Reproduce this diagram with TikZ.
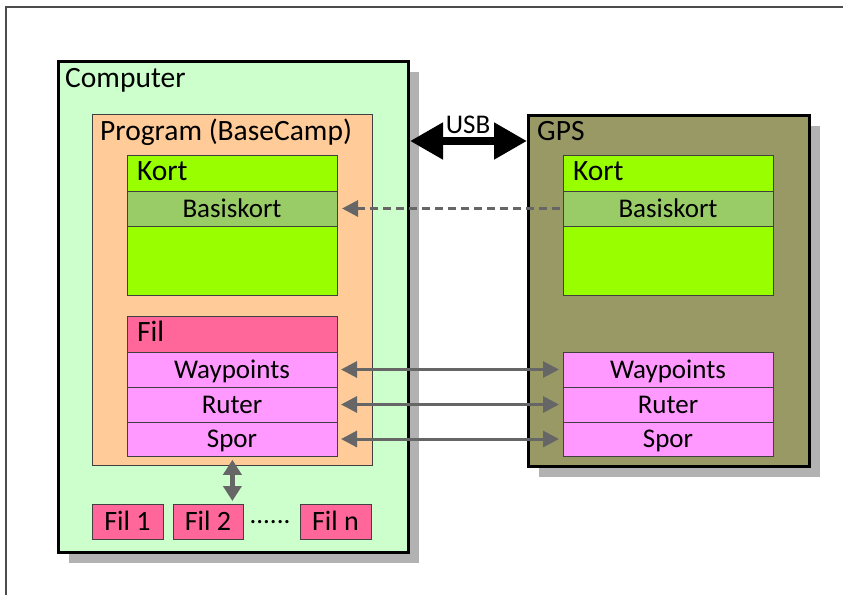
\documentclass[tikz,border=0pt]{standalone}
\usepackage{fontspec}
\setmainfont{Carlito}
\usetikzlibrary{arrows.meta,shadows,positioning}

\definecolor{compgreen}{HTML}{CCFFCC}
\definecolor{progpeach}{HTML}{FFCC99}
\definecolor{kortgreen}{HTML}{99FF00}
\definecolor{basisgreen}{HTML}{99CC66}
\definecolor{filred}{HTML}{FF6699}
\definecolor{datapink}{HTML}{FF99FF}
\definecolor{gpsolive}{HTML}{999966}
\definecolor{shadowgray}{HTML}{B2B2B2}
\definecolor{arrowgray}{HTML}{666666}
\newcommand\boxfont{\fontsize{27}{32}\selectfont}
\newcommand\titlefont{\fontsize{29.5}{34}\selectfont}

\tikzset{
  outerbox/.style={draw=black, line width=3pt, anchor=north west, inner sep=0pt,
    drop shadow={shadow xshift=10pt, shadow yshift=-10pt, fill=shadowgray, opacity=1}},
  inbox/.style={draw=black!75, line width=0.8pt, anchor=north west, inner sep=0pt},
  cell/.style={draw=black!75, line width=0.8pt, inner sep=0pt, outer sep=0pt,
    minimum width=210pt, minimum height=35pt, text height=17pt, text depth=0pt},
  hdrcell/.style={cell, font=\titlefont, text height=14pt, text width=190pt, inner xsep=10pt, align=left},
  filbox/.style={cell, fill=filred, font=\fontsize{28}{32}\selectfont, minimum width=71pt, anchor=north west},
  boxtitle/.style={anchor=base west, inner sep=0pt, font=\titlefont},
  syncarrow/.style={arrowgray, line width=3pt,
    {Triangle[length=16pt,width=16pt]}-{Triangle[length=16pt,width=16pt]}},
}

\begin{document}
\begin{tikzpicture}[x=1pt, y=-1pt, font=\boxfont]
  \useasboundingbox (0,0) rectangle (843,595);
  \draw [black!70, line width=1.2pt] (843,7) -- (6,7) -- (6,595);

  % computer side
  \node [outerbox, fill=compgreen, minimum width=350pt, minimum height=491pt] (computer) at (57,60) {};
  \node [boxtitle] (comptxt) at (65,87) {Computer};
  \node [inbox, fill=progpeach, minimum width=280pt, minimum height=351pt] (prog) at (92,114) {};
  \node [boxtitle] (progtxt) at (100,140) {Program (BaseCamp)};

  \node [hdrcell, fill=kortgreen, minimum height=36pt, anchor=north west] (kortA) at (127,155) {Kort};
  \node [cell, fill=basisgreen, below=0pt of kortA] (basisA) {Basiskort};
  \node [cell, fill=kortgreen, minimum height=69pt, below=0pt of basisA] (restA) {};

  \node [hdrcell, fill=filred, minimum height=36pt, anchor=north west] (filA) at (127,316) {Fil};
  \node [cell, fill=datapink, below=0pt of filA] (wayA) {Waypoints};
  \node [cell, fill=datapink, below=0pt of wayA] (ruterA) {Ruter};
  \node [cell, fill=datapink, minimum height=34pt, below=0pt of ruterA] (sporA) {Spor};

  \node [filbox] (fil1) at (92,504) {Fil 1};
  \node [filbox, minimum width=70pt] (fil2) at (173,504) {Fil 2};
  \node [filbox] (filn) at (300,504) {Fil n};
  \node [anchor=base, inner sep=0pt] (dots) at (270,523) {......};

  % gps side
  \node [outerbox, fill=gpsolive, minimum width=281pt, minimum height=351pt] (gps) at (527,114) {};
  \node [boxtitle] (gpstxt) at (537,140) {GPS};

  \node [hdrcell, fill=kortgreen, minimum height=36pt, anchor=north west] (kortB) at (563,155) {Kort};
  \node [cell, fill=basisgreen, below=0pt of kortB] (basisB) {Basiskort};
  \node [cell, fill=kortgreen, minimum height=69pt, below=0pt of basisB] (restB) {};

  \node [cell, fill=datapink, anchor=north west] (wayB) at (563,352) {Waypoints};
  \node [cell, fill=datapink, below=0pt of wayB] (ruterB) {Ruter};
  \node [cell, fill=datapink, minimum height=34pt, below=0pt of ruterB] (sporB) {Spor};

  % connections
  \coordinate (usbpt) at (467,141);
  \node [anchor=base, inner sep=0pt] (usbtxt) at (468,133) {USB};
  \draw [line width=8pt, {Triangle[length=33pt,width=35pt]}-{Triangle[length=33pt,width=35pt]}]
    (computer.east |- usbpt) -- (gps.west |- usbpt);

  \draw [arrowgray, line width=3pt, dash pattern=on 8pt off 5pt,
    -{Triangle[length=16pt,width=16pt]}, shorten <=3pt, shorten >=5pt] (basisB.west) -- (basisA.east);

  \draw [syncarrow, shorten <=4pt, shorten >=4pt] (wayA.east) -- (wayB.west);
  \draw [syncarrow, shorten <=4pt, shorten >=4pt] (ruterA.east) -- (ruterB.west);
  \draw [syncarrow, shorten <=4pt, shorten >=4pt] (sporA.east) -- (sporB.west);

  \draw [arrowgray, line width=4.5pt,
    {Triangle[length=15pt,width=18pt]}-{Triangle[length=15pt,width=18pt]},
    shorten <=-6pt, shorten >=3pt] (prog.south) -- (prog.south |- fil2.north);
\end{tikzpicture}
\end{document}
